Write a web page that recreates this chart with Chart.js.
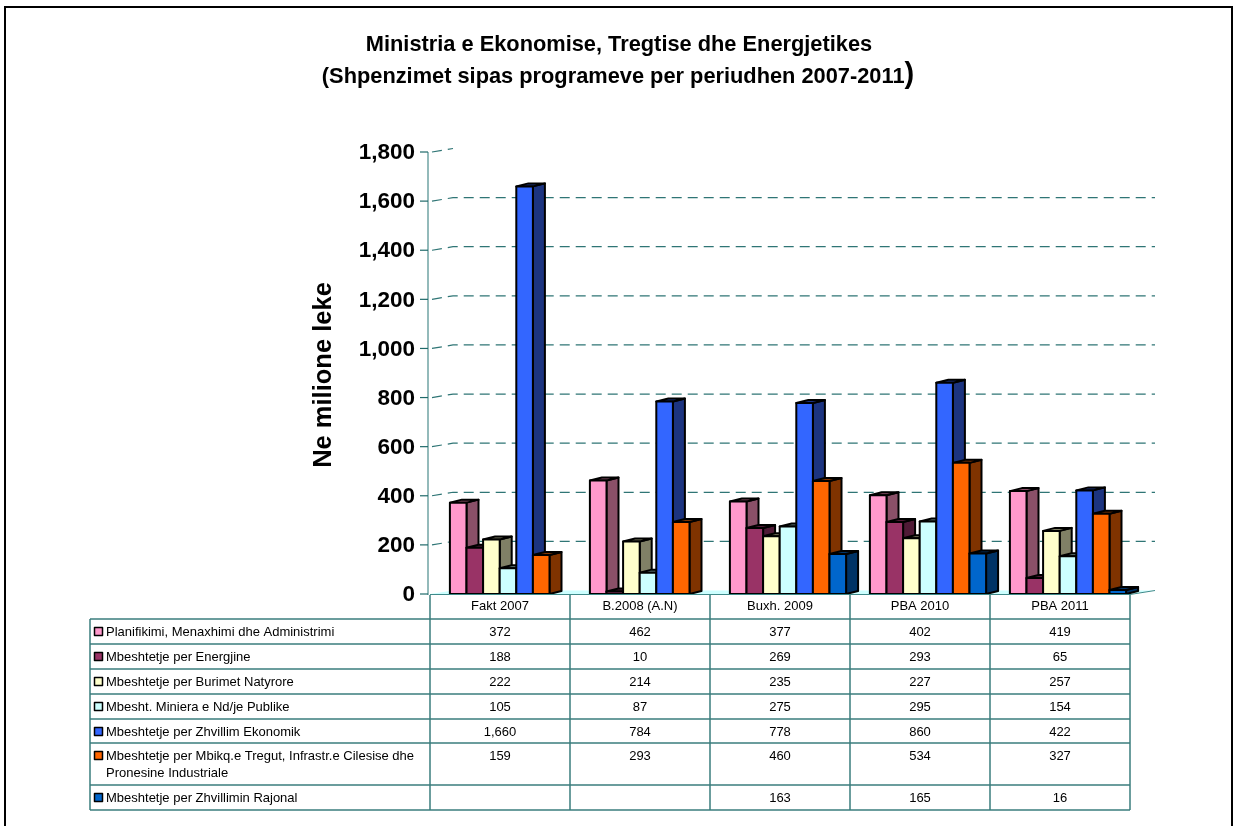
<!DOCTYPE html>
<html><head><meta charset="utf-8">
<script src="https://cdn.jsdelivr.net/npm/chart.js@4"></script>
<style>
html,body{margin:0;padding:0;background:#fff;overflow:hidden}
#wrap{position:absolute;left:0;top:0;width:1235px;height:826px}
#frame{position:absolute;left:4px;top:6px;width:1229px;height:900px;border:2px solid #000;box-sizing:border-box;pointer-events:none}
canvas{position:absolute;left:0;top:0}
</style></head>
<body>
<div id="wrap"><canvas id="c" width="1235" height="826"></canvas><div id="frame"></div></div>
<script>
const categories = ['Fakt 2007','B.2008 (A.N)','Buxh. 2009','PBA 2010','PBA 2011'];
const seriesNames = [
  ['Planifikimi, Menaxhimi dhe Administrimi'],
  ['Mbeshtetje per Energjine'],
  ['Mbeshtetje per Burimet Natyrore'],
  ['Mbesht. Miniera e Nd/je Publike'],
  ['Mbeshtetje per Zhvillim Ekonomik'],
  ['Mbeshtetje per Mbikq.e Tregut, Infrastr.e Cilesise dhe','Pronesine Industriale'],
  ['Mbeshtetje per Zhvillimin Rajonal']
];
const planifikimi = [372, 462, 377, 402, 419];
const energjine   = [188, 10, 269, 293, 65];
const burimet     = [222, 214, 235, 227, 257];
const miniera     = [105, 87, 275, 295, 154];
const zhvillim    = [1660, 784, 778, 860, 422];
const mbikq       = [159, 293, 460, 534, 327];
const rajonal     = [null, null, 163, 165, 16];
const yTicks = [0, 200, 400, 600, 800, 1000, 1200, 1400, 1600, 1800];

const frontColors = ['#FF99CC','#993366','#FFFFCC','#CCFFFF','#3366FF','#FF6600','#0066CC'];
const sideColors  = ['#8A5068','#4F1A36','#808066','#6A8585','#1C3480','#7F3300','#003366'];
const allSeries = [planifikimi, energjine, burimet, miniera, zhvillim, mbikq, rajonal];

const FONT = "Arial, 'Liberation Sans', sans-serif";
const fmt = v => v == null ? '' : v.toLocaleString('en-US');

const drawPlugin = {
  id: 'draw3d',
  beforeDatasetsDraw() { return false; },
  afterDraw(chart) {
    const ctx = chart.ctx;
    const xs = chart.scales.x, ys = chart.scales.y;
    const ca = chart.chartArea;
    const DX = 23, DY = 3.5;   // wall depth
    const bdx = 12, bdy = 3;    // bar depth
    const SHIFT = 8;
    ctx.save();
    // floor
    const y0 = ys.getPixelForValue(0);
    ctx.fillStyle = '#CCFFFF';
    ctx.beginPath();
    ctx.moveTo(ca.left, y0); ctx.lineTo(ca.left + DX, y0 - DY);
    ctx.lineTo(ca.right + 25, y0 - DY); ctx.lineTo(ca.right, y0); ctx.closePath();
    ctx.fill();
    ctx.strokeStyle = '#3F8A8A'; ctx.lineWidth = 1;
    ctx.beginPath(); ctx.moveTo(ca.right, y0 + 0.5); ctx.lineTo(ca.right + 25, y0 - DY); ctx.stroke();
    // gridlines
    ctx.strokeStyle = '#2F7575'; ctx.lineWidth = 1.2; ctx.setLineDash([10, 6]);
    yTicks.forEach(v => {
      if (v === 0) return;
      const y = ys.getPixelForValue(v);
      ctx.beginPath();
      ctx.moveTo(ca.left + 2, y);
      ctx.lineTo(ca.left + DX, y - DY);
      if (v !== 1800) ctx.lineTo(ca.right + 25, y - DY);
      ctx.stroke();
    });
    ctx.setLineDash([]);
    // y axis
    ctx.strokeStyle = '#6FA3A3'; ctx.lineWidth = 1.5;
    ctx.beginPath(); ctx.moveTo(ca.left - 2, ys.getPixelForValue(1800)); ctx.lineTo(ca.left - 2, y0 + 1); ctx.stroke();
    ctx.strokeStyle = '#1F6A6A'; ctx.lineWidth = 1.2;
    ctx.fillStyle = '#000'; ctx.font = 'bold 22.5px ' + FONT;
    ctx.textAlign = 'right'; ctx.textBaseline = 'middle';
    yTicks.forEach(v => {
      const y = ys.getPixelForValue(v);
      ctx.beginPath(); ctx.moveTo(ca.left - 10, y); ctx.lineTo(ca.left - 2, y); ctx.stroke();
      ctx.fillText(fmt(v), ca.left - 15, y + 1);
    });
    // y title
    ctx.save();
    ctx.translate(324, 375); ctx.rotate(-Math.PI / 2);
    ctx.textAlign = 'center'; ctx.textBaseline = 'middle';
    ctx.font = 'bold 25.5px ' + FONT;
    ctx.fillText('Ne milione leke', 0, 0);
    ctx.restore();
    // bars
    ctx.lineJoin = 'round';
    for (let j = 0; j < categories.length; j++) {
      for (let i = 0; i < allSeries.length; i++) {
        const val = allSeries[i][j];
        if (val == null) continue;
        const el = chart.getDatasetMeta(i).data[j];
        const w = el.width;
        const x = el.x - w / 2 + SHIFT;
        const top = el.y, base = el.base;
        ctx.lineWidth = 2; ctx.strokeStyle = '#000';
        ctx.fillStyle = sideColors[i];
        ctx.beginPath();
        ctx.moveTo(x + w, top); ctx.lineTo(x + w + bdx, top - bdy);
        ctx.lineTo(x + w + bdx, base - bdy); ctx.lineTo(x + w, base); ctx.closePath();
        ctx.fill(); ctx.stroke();
        ctx.beginPath();
        ctx.moveTo(x, top); ctx.lineTo(x + bdx, top - bdy);
        ctx.lineTo(x + w + bdx, top - bdy); ctx.lineTo(x + w, top); ctx.closePath();
        ctx.fill(); ctx.stroke();
        ctx.fillStyle = frontColors[i];
        ctx.beginPath(); ctx.rect(x, top, w, base - top);
        ctx.fill(); ctx.stroke();
      }
    }
    ctx.strokeStyle = '#3F8A8A'; ctx.lineWidth = 1;
    ctx.beginPath(); ctx.moveTo(ca.left, y0 + 0.5); ctx.lineTo(ca.right, y0 + 0.5); ctx.stroke();

    // title
    ctx.fillStyle = '#000'; ctx.textBaseline = 'middle';
    ctx.font = 'bold 21.8px ' + FONT;
    ctx.textAlign = 'center';
    ctx.fillText('Ministria e Ekonomise, Tregtise dhe Energjetikes', 619, 45);
    const t2 = '(Shpenzimet sipas programeve per periudhen 2007-2011';
    const w2 = ctx.measureText(t2).width;
    ctx.font = 'bold 29px ' + FONT;
    const wp = ctx.measureText(')').width;
    const sx = 618 - (w2 + wp) / 2;
    ctx.textAlign = 'left';
    ctx.font = 'bold 21.8px ' + FONT;
    ctx.fillText(t2, sx, 77);
    ctx.font = 'bold 29px ' + FONT;
    ctx.fillText(')', sx + w2, 75);

    // data table
    const half = (xs.getPixelForValue(1) - xs.getPixelForValue(0)) / 2;
    const left = 90;
    const colB = categories.map((c, j) => xs.getPixelForValue(j) - half);
    colB.push(xs.getPixelForValue(categories.length - 1) + half);
    const rowTops = [619, 644, 669, 694, 719, 743, 785, 810];
    ctx.strokeStyle = '#3A7C7C'; ctx.lineWidth = 1.5;
    rowTops.forEach(y => { ctx.beginPath(); ctx.moveTo(left, y); ctx.lineTo(colB[colB.length - 1], y); ctx.stroke(); });
    colB.forEach(x => { ctx.beginPath(); ctx.moveTo(x, y0 + 1); ctx.lineTo(x, 810); ctx.stroke(); });
    ctx.beginPath(); ctx.moveTo(left, 619); ctx.lineTo(left, 810); ctx.stroke();
    ctx.fillStyle = '#000'; ctx.font = '13px ' + FONT; ctx.textAlign = 'center'; ctx.textBaseline = 'middle';
    categories.forEach((c, j) => ctx.fillText(c, xs.getPixelForValue(j), 606));
    ctx.font = '13px ' + FONT;
    for (let i = 0; i < allSeries.length; i++) {
      const ty = rowTops[i] + 13;
      ctx.fillStyle = frontColors[i]; ctx.strokeStyle = '#000'; ctx.lineWidth = 1.5;
      ctx.fillRect(94.5, ty - 4.5, 8, 8); ctx.strokeRect(94.5, ty - 4.5, 8, 8);
      ctx.fillStyle = '#000'; ctx.textAlign = 'left';
      seriesNames[i].forEach((ln, k) => ctx.fillText(ln, 106, ty + k * 17));
      ctx.textAlign = 'center';
      allSeries[i].forEach((v, j) => ctx.fillText(fmt(v), xs.getPixelForValue(j), ty));
    }
    ctx.restore();
  }
};

new Chart(document.getElementById('c'), {
  type: 'bar',
  data: {
    labels: categories,
    datasets: allSeries.map((d, i) => ({
      label: seriesNames[i].join(' '),
      data: d,
      backgroundColor: frontColors[i],
      categoryPercentage: 0.83,
      barPercentage: 1.0
    }))
  },
  options: {
    responsive: false,
    animation: false,
    devicePixelRatio: 1,
    layout: { padding: { left: 430, right: 105, top: 152, bottom: 232 } },
    scales: {
      x: { display: false, offset: true },
      y: { display: false, min: 0, max: 1800 }
    },
    plugins: { legend: { display: false }, tooltip: { enabled: false }, title: { display: false } }
  },
  plugins: [drawPlugin]
});
</script>
</body></html>
